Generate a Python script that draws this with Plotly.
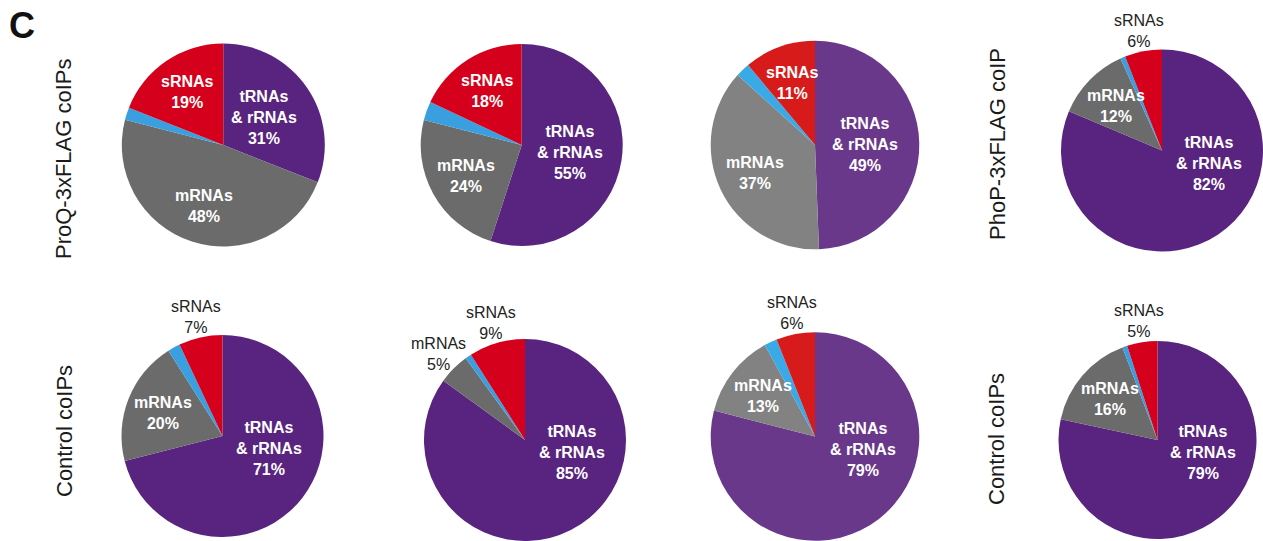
import math
import plotly.graph_objects as go

W, H = 1263, 541

# RNA classes, clockwise from 12 o'clock
categories = ["tRNAs & rRNAs", "mRNAs", "other RNAs", "sRNAs"]
label_names = ["tRNAs<br>& rRNAs", "mRNAs", None, "sRNAs"]

# percentage of reads per RNA class
proq_a = [31, 48, 2, 19]
proq_b = [55, 24, 3, 18]
proq_c = [49, 37, 2.2, 11]
phop_flag = [82, 12, 0.8, 6]
ctrl_a = [71, 20, 2, 7]
ctrl_b = [85, 5, 1, 9]
ctrl_c = [79, 13, 2, 6]
ctrl_phop = [79, 16, 0.8, 5]

# where each class label goes: "in" (white, bold), "out" (black), None
place_top = ["in", "in", None, "in"]
place_phop = ["in", "in", None, "out"]
place_ctrl = ["in", "in", None, "out"]
place_ctrl_b = ["in", "out", None, "out"]

palette_dark = ["#58247f", "#6b6b6b", "#3a9fde", "#d5001b"]
palette_light = ["#6a388b", "#828282", "#3aaae6", "#d71a1a"]

# pie layout in pixels: centre x, centre y, radius
panels = [
    (proq_a, place_top, palette_dark, (223.3, 145.0, 101.5)),
    (proq_b, place_top, palette_dark, (521.7, 145.0, 101.0)),
    (proq_c, place_top, palette_light, (815.0, 145.0, 104.3)),
    (phop_flag, place_phop, palette_dark, (1162.0, 150.5, 101.0)),
    (ctrl_a, place_ctrl, palette_dark, (222.5, 436.0, 101.0)),
    (ctrl_b, place_ctrl_b, palette_dark, (525.0, 440.0, 101.0)),
    (ctrl_c, place_ctrl, palette_light, (815.0, 436.5, 104.3)),
    (ctrl_phop, place_ctrl, palette_dark, (1157.5, 440.0, 99.0)),
]

FONT = "Liberation Sans, Arial, Helvetica, sans-serif"

fig = go.Figure()
annotations = []


def clamp(v):
    return max(0.0, min(1.0, v))


def polar(cx, cy, ang, dist):
    a = math.radians(ang)
    return cx + dist * math.sin(a), cy - dist * math.cos(a)


for values, places, colors, (cx, cy, r) in panels:
    fig.add_trace(go.Pie(
        labels=categories,
        values=values,
        sort=False,
        direction="clockwise",
        rotation=0,
        marker=dict(colors=colors, line=dict(width=0)),
        textinfo="none",
        showlegend=False,
        domain=dict(
            x=[clamp((cx - r) / W), clamp((cx + r) / W)],
            y=[clamp(1 - (cy + r) / H), clamp(1 - (cy - r) / H)],
        ),
    ))

    total = sum(values)
    start = 0.0
    for i, v in enumerate(values):
        span = v / total * 360.0
        mid = start + span / 2
        start += span
        name = label_names[i]
        if name is None or places[i] is None:
            continue
        text = f"{name}<br>{v:g}%"
        if places[i] == "in":
            if i == 0:
                ang, dist = min(mid, 105.0), 0.48 * r
            else:
                ang, dist = mid, 0.63 * r
            x, y = polar(cx, cy, ang, dist)
            font = dict(family=FONT, size=16, color="white", weight="bold")
        else:
            x, y = polar(cx, cy, mid, r + 21)
            font = dict(family=FONT, size=16, color="#222222")
        annotations.append(dict(
            x=x / W, y=1 - y / H, xref="paper", yref="paper",
            text=text, showarrow=False, xanchor="center", yanchor="middle",
            font=font, align="center",
        ))

# row titles
row_titles = [
    ("ProQ-3xFLAG coIPs", 64, 159),
    ("PhoP-3xFLAG coIP", 997, 144),
    ("Control coIPs", 64, 431),
    ("Control coIPs", 997, 439),
]
for text, x, y in row_titles:
    annotations.append(dict(
        x=x / W, y=1 - y / H, xref="paper", yref="paper", text=text,
        textangle=-90, showarrow=False, xanchor="center", yanchor="middle",
        font=dict(family=FONT, size=22, color="#1a1a1a"),
    ))

# panel letter
annotations.append(dict(
    x=7 / W, y=1 - 25 / H, xref="paper", yref="paper", text="C",
    showarrow=False, xanchor="left", yanchor="middle",
    font=dict(family=FONT, size=36, color="#111111", weight="bold"),
))

fig.update_layout(
    width=W, height=H,
    margin=dict(l=0, r=0, t=0, b=0),
    paper_bgcolor="white", plot_bgcolor="white",
    annotations=annotations,
)

fig.write_html("out.html", config={"displayModeBar": False})
